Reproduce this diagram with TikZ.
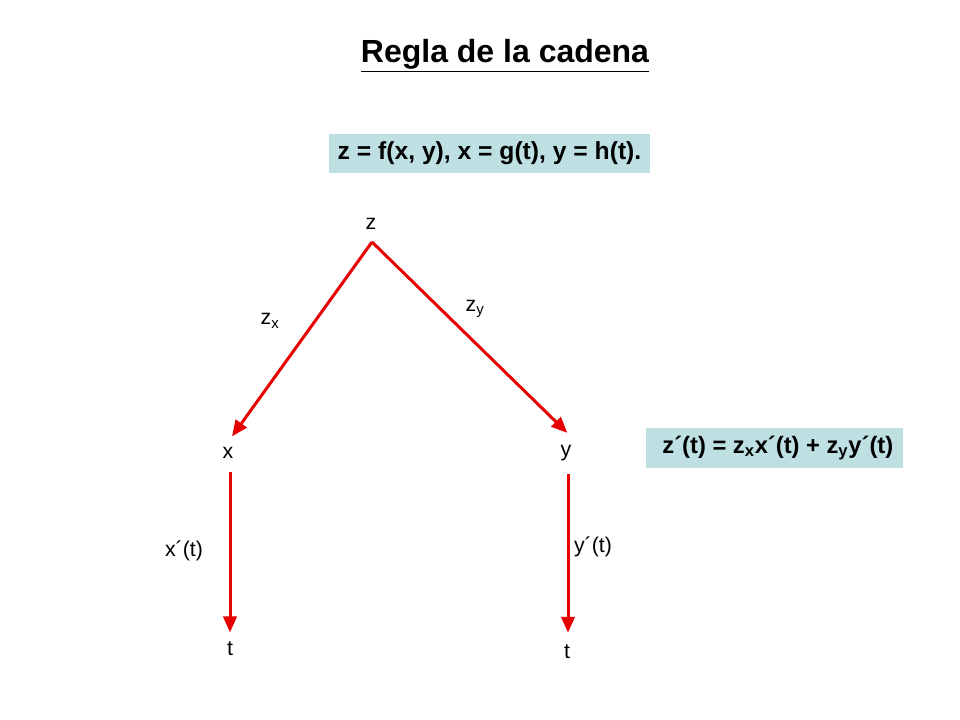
\documentclass[tikz,border=0pt]{standalone}
\usepackage{fontspec}
\setmainfont{Liberation Sans}
\usetikzlibrary{arrows.meta}
\definecolor{boxblue}{RGB}{190,224,227}
\definecolor{arrred}{RGB}{230,0,0}
\begin{document}
\begin{tikzpicture}[x=0.75pt,y=-0.75pt,
  lbl/.style={inner sep=0pt,font=\fontsize{16}{19}\selectfont},
  formula/.style={fill=boxblue,inner sep=0pt,font=\bfseries\fontsize{18.5}{21}\selectfont},
  arr/.style={draw=arrred,line width=2.25pt,-{Triangle[length=12pt,width=10pt]}}]
\useasboundingbox (0,0) rectangle (960,720);
\node[inner sep=0pt,font=\bfseries\fontsize{24}{28}\selectfont] (title) at (505,56) {\underline{Regla de la cadena}};
\node[formula,minimum width=321*0.75pt,minimum height=39*0.75pt] (f1) at (489.5,153.5) {z = f(x, y), x = g(t), y = h(t).};
\node[formula,font=\bfseries\fontsize{17.8}{21}\selectfont,minimum width=257*0.75pt,minimum height=40*0.75pt] (f2) at (774.5,448) {\hspace*{5pt}z´(t) = z\textsubscript{x}x´(t) + z\textsubscript{y}y´(t)};
\node[lbl] (z) at (371,224) {z};
\node[lbl] (x) at (228,453) {x};
\node[lbl] (y) at (566,453) {y};
\node[lbl] (tx) at (230,649) {t};
\node[lbl] (ty) at (567,652) {t};
\node[lbl] (zx) at (270,321) {z\textsubscript{x}};
\node[lbl] (zy) at (475,309) {z\textsubscript{y}};
\node[lbl] (xp) at (184,551) {x´(t)};
\node[lbl] (yp) at (593,547) {y´(t)};
\coordinate (apex) at (372,242);
\draw[arr] (apex) -- ([xshift=3pt,yshift=8pt]x.north);
\draw[arr] (apex) -- ([xshift=1pt,yshift=9pt]y.north);
\draw[arr] ([xshift=1.5pt,yshift=-10pt]x.south) -- ([xshift=0pt,yshift=7pt]tx.north);
\draw[arr] ([xshift=1.5pt,yshift=-10pt]y.south) -- ([xshift=0.75pt,yshift=9pt]ty.north);
\end{tikzpicture}
\end{document}
